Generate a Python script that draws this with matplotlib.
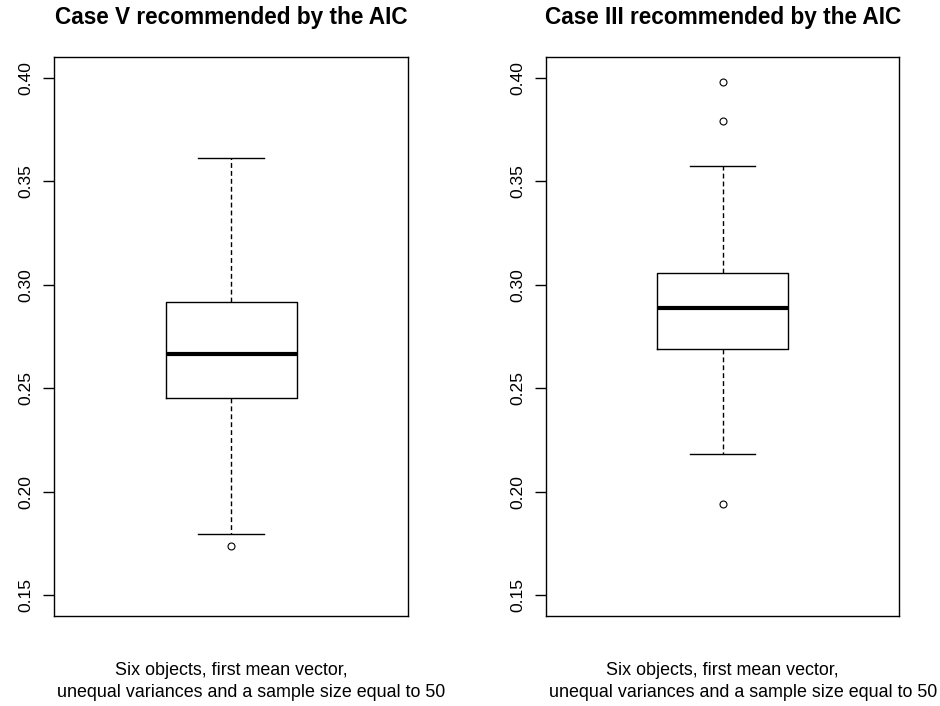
import matplotlib
matplotlib.use('Agg')
import matplotlib.pyplot as plt

# box statistics
titles = ["Case V recommended by the AIC", "Case III recommended by the AIC"]
whislo = [0.1795, 0.2180]
q1 = [0.2451, 0.2689]
med = [0.2667, 0.2889]
q3 = [0.2917, 0.3056]
whishi = [0.3614, 0.3574]
fliers = [[0.1738], [0.3979, 0.3794, 0.1940]]
yticks = [0.15, 0.20, 0.25, 0.30, 0.35, 0.40]
ytick_labels = ["0.15", "0.20", "0.25", "0.30", "0.35", "0.40"]
xlab = "Six objects, first mean vector,\n        unequal variances and a sample size equal to 50"

plt.rcParams['font.family'] = ['Liberation Sans', 'DejaVu Sans']

fig = plt.figure(figsize=(9.4, 7.06), dpi=100)
lefts = [0.0578, 0.5809]
for i in range(2):
    ax = fig.add_axes([lefts[i], 0.1279, 0.3760, 0.791])
    stats = [dict(whislo=whislo[i], q1=q1[i], med=med[i], q3=q3[i],
                  whishi=whishi[i], fliers=fliers[i])]
    ax.bxp(stats, positions=[1], widths=0.4, patch_artist=False,
           boxprops=dict(color='black', linewidth=1.0),
           medianprops=dict(color='black', linewidth=3.0, solid_capstyle='butt'),
           whiskerprops=dict(color='black', linewidth=1.0, linestyle=(0, (3.5, 2.2))),
           capprops=dict(color='black', linewidth=1.0),
           capwidths=0.2,
           flierprops=dict(marker='o', markersize=5, markerfacecolor='none',
                           markeredgecolor='black', markeredgewidth=0.8))
    ax.set_xlim(0.46, 1.54)
    ax.set_ylim(0.14, 0.41)
    ax.set_xticks([])
    ax.set_yticks(yticks)
    ax.set_yticklabels(ytick_labels, rotation=90, va='center', fontsize=12.6)
    ax.tick_params(axis='y', length=8, width=1.0, pad=7)
    for s in ax.spines.values():
        s.set_linewidth(1.0)
    ax.set_title(titles[i], fontsize=16.3, fontweight='bold', pad=24)
    ax.set_xlabel(xlab, fontsize=12.9, labelpad=33, linespacing=1.45)

plt.savefig("out.png", dpi=100)
